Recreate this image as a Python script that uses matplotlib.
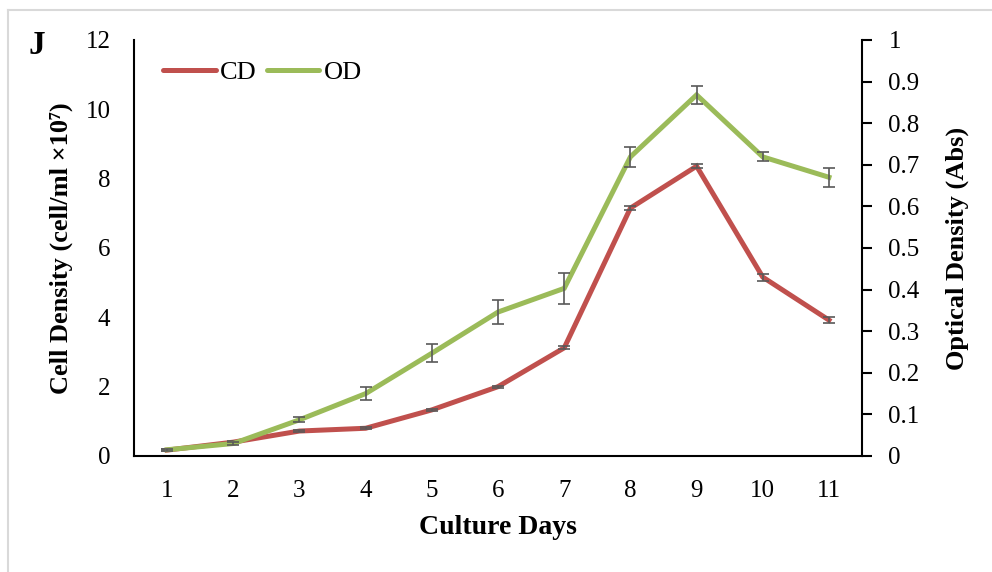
import matplotlib
matplotlib.use('Agg')
import matplotlib.pyplot as plt
from matplotlib.lines import Line2D

plt.rcParams['font.family'] = ['Liberation Serif', 'DejaVu Serif']

days = [1, 2, 3, 4, 5, 6, 7, 8, 9, 10, 11]
day_labels = [str(d) for d in days]
cd = [0.17, 0.40, 0.72, 0.80, 1.33, 2.00, 3.12, 7.15, 8.36, 5.16, 3.92]
cd_err = [0.03, 0.03, 0.04, 0.03, 0.03, 0.03, 0.04, 0.05, 0.05, 0.10, 0.08]
od = [0.015, 0.03, 0.087, 0.15, 0.247, 0.346, 0.403, 0.719, 0.868, 0.719, 0.67]
od_err = [0.003, 0.004, 0.006, 0.016, 0.022, 0.028, 0.038, 0.024, 0.022, 0.011, 0.023]

red = '#C0504D'
green = '#9BBB59'
errc = '#595959'

fig = plt.figure(figsize=(9.92, 5.72), dpi=100)
ax = fig.add_axes([0.1351, 0.2028, 0.7339, 0.7273])
ax2 = ax.twinx()

x = list(range(len(days)))
ax.plot(x, cd, color=red, lw=3.6, zorder=2, solid_joinstyle='miter')
ax.errorbar(x, cd, yerr=cd_err, fmt='none', ecolor=errc, elinewidth=1.2,
            capsize=4, capthick=1.2, zorder=3)
ax2.plot(x, od, color=green, lw=3.6, zorder=2, solid_joinstyle='miter')
ax2.errorbar(x, od, yerr=od_err, fmt='none', ecolor=errc, elinewidth=1.2,
             capsize=4, capthick=1.2, zorder=3)

ax.set_xlim(-0.5, len(days) - 0.5)
ax.set_ylim(0, 12)
ax.set_yticks(range(0, 13, 2))
ax2.set_ylim(0, 1)
ax2.set_yticks([i / 10 for i in range(11)])
ax2.set_yticklabels(['0'] + ['%.1f' % (i / 10) for i in range(1, 10)] + ['1'])
ax.set_xticks(x)
ax.set_xticklabels(day_labels)

for a in (ax, ax2):
    a.spines['top'].set_visible(False)
    for s in a.spines.values():
        s.set_linewidth(1.5)
        s.set_color('black')
ax.spines['right'].set_visible(False)
ax2.spines['left'].set_visible(False)
ax2.spines['bottom'].set_visible(False)

ax.tick_params(axis='both', length=0, labelsize=18, pad=17)
ax2.tick_params(axis='y', length=7, width=1.5, direction='out', labelsize=18, pad=12)

ax.set_xlabel('Culture Days', fontsize=20, fontweight='bold', labelpad=10)
ax.set_ylabel('Cell Density (cell/ml ×10⁷)', fontsize=19, fontweight='bold', labelpad=9)
ax2.set_ylabel('Optical Density (Abs)', fontsize=19, fontweight='bold', labelpad=19)

handles = [Line2D([], [], color=red, lw=3.6, solid_capstyle='round'),
           Line2D([], [], color=green, lw=3.6, solid_capstyle='round')]
ax.legend(handles, ['CD', 'OD'], loc='upper left', bbox_to_anchor=(0.025, 0.975),
          ncol=2, frameon=False, fontsize=19, handlelength=2.0,
          handletextpad=0.15, columnspacing=0.4, borderaxespad=0)

fig.text(0.037, 0.92, 'J', fontsize=24, fontweight='bold', ha='center', va='center')

# light frame on left and top edges
fig.add_artist(Line2D([8 / 992, 8 / 992], [0, 1 - 10 / 572], transform=fig.transFigure,
                      color='#d9d9d9', lw=1.5))
fig.add_artist(Line2D([8 / 992, 1], [1 - 10 / 572, 1 - 10 / 572], transform=fig.transFigure,
                      color='#d9d9d9', lw=1.5))

fig.savefig('out.png', dpi=100)
